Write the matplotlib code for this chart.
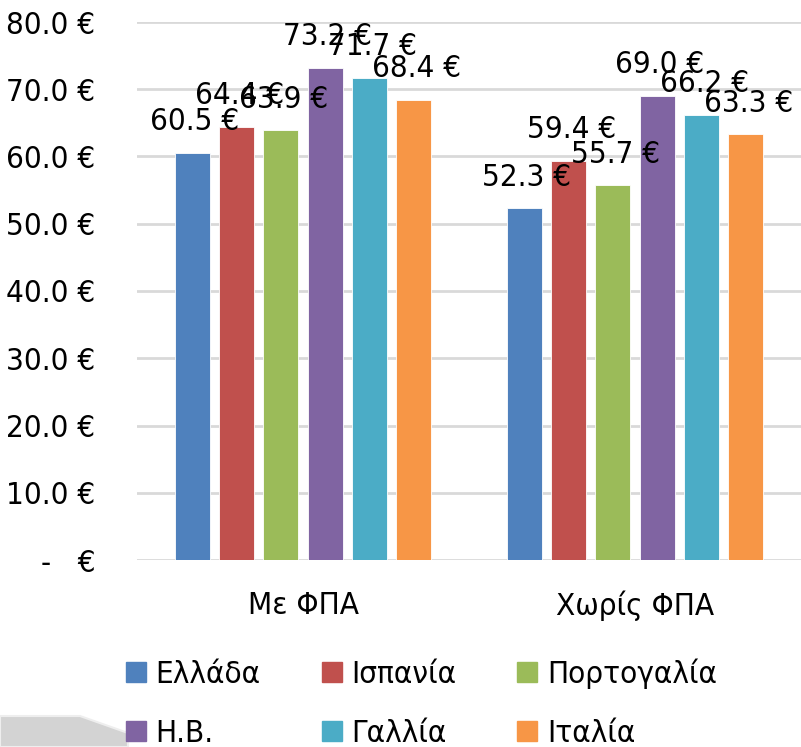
import matplotlib
matplotlib.use("Agg")
import matplotlib.pyplot as plt
import numpy as np
from matplotlib import font_manager as fm
from matplotlib.lines import Line2D
from matplotlib.patches import Polygon

# look for a narrow sans font (reference uses an Arial Narrow look)
narrow = None
for f in fm.fontManager.ttflist:
    if "Serif" in f.name or "Mono" in f.name:
        continue
    if f.stretch in ("condensed", "semi-condensed", "extra-condensed") and f.style == "normal" \
            and f.weight in (400, "normal", "regular"):
        if narrow is None or "Liberation" in f.name or "DejaVu" in f.name:
            narrow = f
if narrow is not None:
    plt.rcParams['font.family'] = [narrow.name, 'DejaVu Sans']
    plt.rcParams['font.stretch'] = narrow.stretch
else:
    plt.rcParams['font.family'] = ['Liberation Sans', 'DejaVu Sans']

# data
categories = ["Με ΦΠΑ", "Χωρίς ΦΠΑ"]
countries = ["Ελλάδα", "Ισπανία", "Πορτογαλία", "Η.Β.", "Γαλλία", "Ιταλία"]
ellada = [60.5, 52.3]
ispania = [64.4, 59.4]
portogalia = [63.9, 55.7]
hv = [73.2, 69.0]
gallia = [71.7, 66.2]
italia = [68.4, 63.3]
colors = ["#4F81BD", "#C0504D", "#9BBB59", "#8064A2", "#4BACC6", "#F79646"]
yticks = [0, 10, 20, 30, 40, 50, 60, 70, 80]

series = [ellada, ispania, portogalia, hv, gallia, italia]
fs = 22.5

fig = plt.figure(figsize=(8.01, 7.47), dpi=100)
W, H = 801, 747
ax = fig.add_axes([137 / W, 187 / H, (W - 137) / W, (725 - 187) / H])

x = np.arange(len(categories))
step = 0.1336
bw = 0.105
for i, vals in enumerate(series):
    pos = x + (i - 2.5) * step
    ax.bar(pos, vals, width=bw, color=colors[i], edgecolor="white", linewidth=0.6, zorder=3)
    for p, v in zip(pos, vals):
        ax.annotate(f"{v:.1f} €", (p, v), xytext=(2, 12), textcoords="offset points",
                    ha="center", va="bottom", fontsize=fs, zorder=5, annotation_clip=False)

ax.set_xlim(-0.5, 1.5)
ax.set_ylim(0, 80)
ax.set_yticks(yticks)
ax.set_yticklabels(["-   €"] + [f"{t:.1f} €" for t in yticks[1:]], fontsize=fs)
ax.set_xticks(x)
ax.set_xticklabels(categories, fontsize=fs)
ax.tick_params(axis="y", length=0, pad=30)
ax.tick_params(axis="x", length=0, pad=22)
ax.grid(axis="y", color="#D9D9D9", linewidth=2, zorder=0)
for s in ax.spines.values():
    s.set_visible(False)

# legend, filled row by row like the original
order = [0, 3, 1, 4, 2, 5]
handles = [Line2D([], [], marker="s", linestyle="none", markersize=14.4,
                  markerfacecolor=colors[k], markeredgecolor=colors[k]) for k in order]
fig.legend(handles, [countries[k] for k in order], ncol=3, loc="upper left",
           bbox_to_anchor=(110 / W, 1 - 643 / H), frameon=False, fontsize=fs,
           handlelength=0.65, handletextpad=0.3, columnspacing=1.95, labelspacing=0.95, borderpad=0)

# grey shape in the lower left corner
fig.patches.append(Polygon([(0, 0), (0, 1 - 716 / H), (80 / W, 1 - 716 / H), (128 / W, 1 - 733 / H),
                            (128 / W, 0)], closed=True, transform=fig.transFigure,
                           facecolor="#D3D3D3", edgecolor="#EEEEEE", linewidth=1.5, zorder=-1))

fig.savefig("out.png", dpi=100)
